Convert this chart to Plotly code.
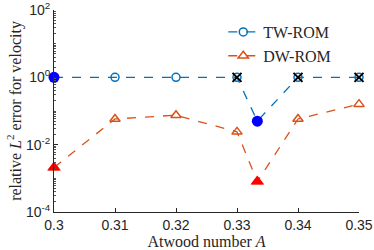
import plotly.graph_objects as go

atwood = [0.30, 0.31, 0.32, 0.33, 1/3, 0.34, 0.35]
tw_rom = [1.0, 1.0, 1.0, 1.0, 0.05, 1.0, 1.0]
dw_rom = [0.0021, 0.058, 0.075, 0.024, 0.0008, 0.058, 0.16]
best_idx = [0, 4]
fail_idx = [3, 5, 6]

xticks = [0.30, 0.31, 0.32, 0.33, 0.34, 0.35]
xticklabels = ["0.3", "0.31", "0.32", "0.33", "0.34", "0.35"]
yticks = [1e-4, 1e-2, 1e0, 1e2]
yticklabels = ["10<sup>-4</sup>", "10<sup>-2</sup>", "10<sup>0</sup>", "10<sup>2</sup>"]

TW_COLOR = "#0072BD"
DW_COLOR = "#D95319"
serif = "Liberation Serif, DejaVu Serif, serif"
sans = "Liberation Sans, Arial, sans-serif"
INK = "#262626"

fig = go.Figure()
fig.add_trace(go.Scatter(
    x=atwood, y=tw_rom, mode="lines+markers", name="TW-ROM",
    line=dict(color=TW_COLOR, width=1.3, dash="dash"),
    marker=dict(symbol="circle-open", size=8, color=TW_COLOR, line=dict(width=1.5)),
    cliponaxis=False))
fig.add_trace(go.Scatter(
    x=atwood, y=dw_rom, mode="lines+markers", name="DW-ROM",
    line=dict(color=DW_COLOR, width=1.3, dash="dash"),
    marker=dict(symbol="triangle-up-open", size=9, color=DW_COLOR, line=dict(width=1.5)),
    cliponaxis=False))
fig.add_trace(go.Scatter(
    x=[atwood[i] for i in best_idx], y=[tw_rom[i] for i in best_idx], mode="markers",
    marker=dict(symbol="circle", size=11, color="#0000FF"), showlegend=False, cliponaxis=False))
fig.add_trace(go.Scatter(
    x=[atwood[i] for i in best_idx], y=[dw_rom[i] for i in best_idx], mode="markers",
    marker=dict(symbol="triangle-up", size=12, color="#FF0000"), showlegend=False, cliponaxis=False))
fig.add_trace(go.Scatter(
    x=[atwood[i] for i in fail_idx], y=[tw_rom[i] for i in fail_idx], mode="markers",
    marker=dict(symbol="x-thin-open", size=9, color="black", line=dict(width=2, color="black")),
    showlegend=False, cliponaxis=False))

fig.update_layout(
    width=374, height=250,
    margin=dict(l=54, r=15, t=10, b=38, autoexpand=False),
    paper_bgcolor="white", plot_bgcolor="white",
    showlegend=True,
    legend=dict(x=0.555, y=0.975, xanchor="left", yanchor="top",
                font=dict(family=serif, size=16, color=INK),
                bgcolor="rgba(255,255,255,0)", itemwidth=30, tracegroupgap=0),
    font=dict(family=sans, size=14, color=INK),
)
fig.update_xaxes(
    range=[0.3, 0.35], tickvals=xticks, ticktext=xticklabels, automargin=False,
    showgrid=False, zeroline=False, showline=True, linecolor=INK, linewidth=0.8,
    ticks="inside", ticklen=4, tickcolor=INK,
    tickfont=dict(family=sans, size=14, color=INK),
    title=dict(text="Atwood number <i>A</i>", font=dict(family=serif, size=16, color=INK), standoff=1))
fig.update_yaxes(
    type="log", range=[-4, 2.0001], tickvals=yticks, ticktext=yticklabels, automargin=False,
    ticklabeloverflow="allow",
    showgrid=False, zeroline=False, showline=True, linecolor=INK, linewidth=0.8,
    ticks="inside", ticklen=4, tickcolor=INK,
    minor=dict(ticks="inside", ticklen=2.5, tickcolor="#555555", dtick="D1"),
    tickfont=dict(family=sans, size=14, color=INK),
    title=dict(text="relative <i>L</i><sup>2</sup> error for velocity",
               font=dict(family=serif, size=16, color=INK), standoff=0))

fig.write_html("out.html", config={"displayModeBar": False},
               post_script="document.body.style.margin='0';document.body.style.padding='0';")
